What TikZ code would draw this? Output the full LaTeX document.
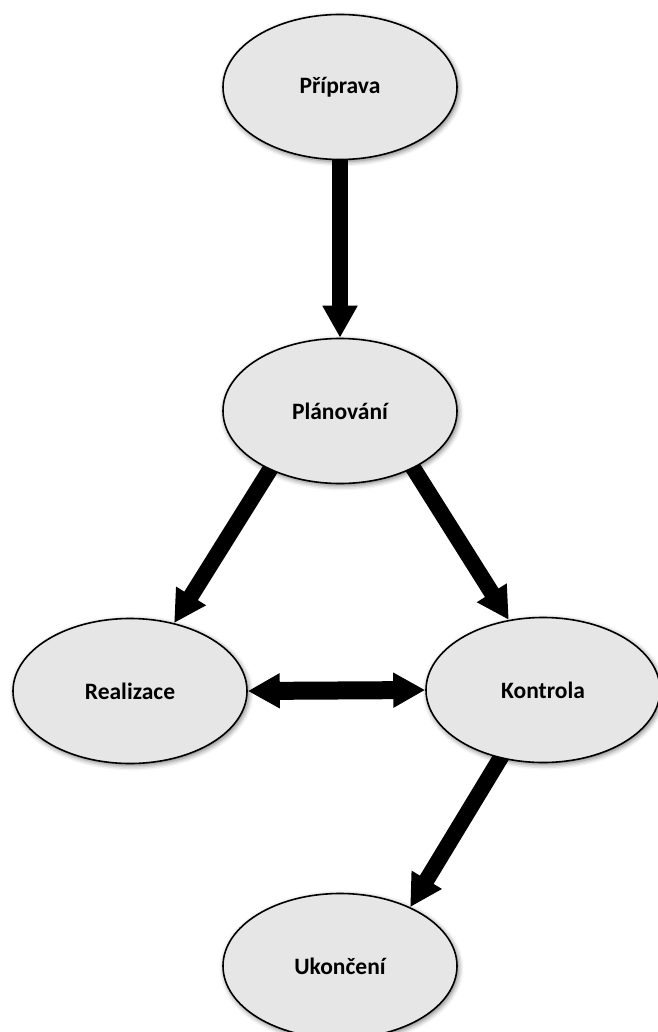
\documentclass[tikz,border=0pt]{standalone}
\usepackage{fontspec}
\setmainfont{Carlito}
\usetikzlibrary{shapes.geometric,arrows.meta,shadows.blur,backgrounds}

\definecolor{stagefill}{HTML}{E6E6E6}

\tikzset{
  stage/.style={ellipse, draw=black, line width=1.6pt, fill=stagefill,
    minimum width=234pt, minimum height=145pt, inner sep=0pt,
    font=\fontsize{23.5}{28}\selectfont\bfseries,
    blur shadow={shadow xshift=1.5pt, shadow yshift=-2pt,
      shadow blur radius=5pt, shadow opacity=55}},
  flow/.style={line width=16pt, shorten <=-8pt,
    -{Triangle[width=33pt,length=32pt]}},
  twoway/.style={line width=18pt,
    {Triangle[width=33pt,length=32pt]}-{Triangle[width=33pt,length=32pt]}}
}

\begin{document}
\begin{tikzpicture}[x=1pt,y=1pt]
  \useasboundingbox (0,0) rectangle (657,-1032);

  % process stages
  \node[stage] (prep) at (340,-87)  {Příprava};
  \node[stage] (plan) at (340,-411) {Plánování};
  \node[stage] (real) at (130,-691) {Realizace};
  \node[stage] (ctrl) at (543,-690) {Kontrola};
  \node[stage] (end)  at (340,-966) {Ukončení};

  % transitions between stages
  \begin{pgfonlayer}{background}
    \draw[flow] (prep.270) -- (plan.90);
    \draw[flow] (plan.220) -- (real.57);
    \draw[flow] (plan.322) -- (ctrl.116);
    \draw[flow] (ctrl.238) -- (end.40);
  \end{pgfonlayer}
  \draw[twoway] (real.east) -- (ctrl.west);
\end{tikzpicture}
\end{document}
